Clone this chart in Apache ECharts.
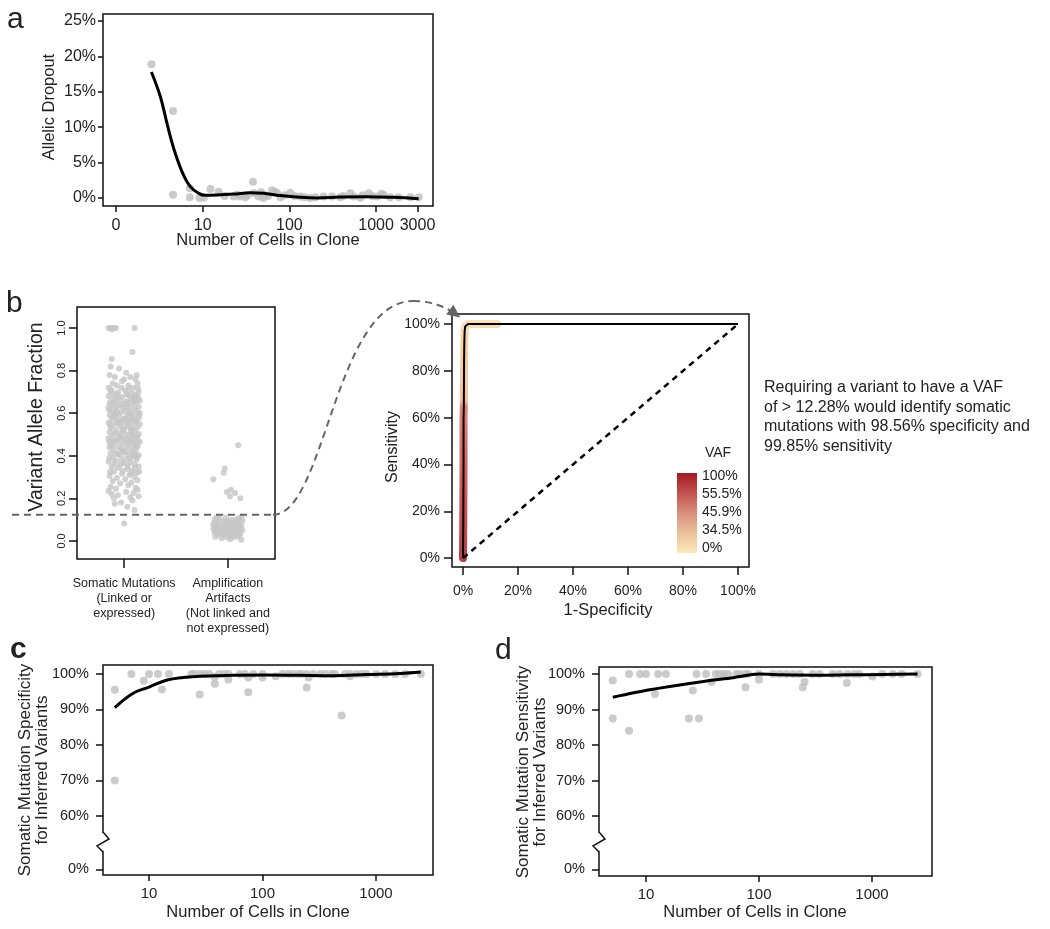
<!DOCTYPE html>
<html><head><meta charset="utf-8">
<script src="https://cdn.jsdelivr.net/npm/echarts@6/dist/echarts.min.js"></script>
<style>html,body{margin:0;padding:0;background:#fff}#c{width:1050px;height:929px}</style>
</head><body><div id="c"></div>
<script>
// ---------- Panel a: allelic dropout ----------
const dropCells = [2.56,4.55,4.55,7.1,7.1,9.2,10.3,12.3,15.3,22.8,27,31,38,39,44,50,52,63,72,79,102,134,174,200,248,310,387,505,552,660,822,1020,1220,1450,1820,2490,3100,18,25,33,47,57,68,88,115,150,420,700,900,1150];
const dropPct   = [18.9,12.3,0.47,1.37,0.1,0,0.05,1.27,0.9,0.2,0.2,0.1,2.3,0.66,0.2,0,0.42,1.1,0.66,0.1,0.75,0.2,0,0.1,0.2,0.2,0.1,0.66,0.2,0.05,0.66,0.2,0.42,0.1,0.1,0.1,0.1,0.3,0.5,0.4,0.8,0.3,0.9,0.4,0.3,0.1,0.3,0.4,0.3,0.6];
const dropFitCells = [2.56,3.25,3.88,4.63,5.78,7.2,9.0,10.7,14.6,22.8,35.5,50.6,72,112,209,387,787,1600,3100];
const dropFitPct   = [17.8,14.3,10.5,7.0,3.7,1.6,0.66,0.38,0.42,0.56,0.75,0.66,0.38,0.19,0.0,0.14,0.19,0.09,-0.1];
const dropTicksX = [1,10,100,1000,3000];
const dropTickLabelsX = ['0','10','100','1000','3000'];
const dropTicksY = [0,5,10,15,20,25];

// ---------- Panel b: VAF strip chart ----------
const vafCategories = ['Somatic Mutations\n(Linked or\nexpressed)','Amplification\nArtifacts\n(Not linked and\nnot expressed)'];
const vafThreshold = 0.1228;
const vafTicks = [0,0.2,0.4,0.6,0.8,1.0];
// [jitter offset, VAF]
const somaticPoints = [
[-0.15,1.0],[-0.13,1.0],[-0.12,0.995],[-0.10,1.0],[-0.08,1.0],[0.10,1.0],
[-0.12,0.855],[-0.13,0.82],[-0.05,0.81],[0.08,0.887],[-0.14,0.78],[-0.09,0.77],[0.02,0.79],[0.06,0.77],[0.11,0.76],[-0.02,0.75],[0.13,0.74],[-0.11,0.74],[0.04,0.73],[-0.07,0.73],[0.09,0.72],[-0.15,0.72],[0.00,0.76],[0.12,0.78],
[-0.13,0.702],[-0.06,0.698],[0.01,0.705],[0.07,0.695],[0.14,0.70],[-0.10,0.69],[0.11,0.688],
[-0.15,0.681],[-0.02,0.676],[0.04,0.684],[0.09,0.672],[-0.08,0.67],[0.13,0.678],[-0.12,0.665],
[-0.04,0.661],[0.02,0.655],[0.06,0.664],[0.12,0.652],[-0.14,0.648],[-0.09,0.655],[0.15,0.66],[0.00,0.645],
[-0.11,0.64],[-0.06,0.636],[0.03,0.632],[0.08,0.641],[0.14,0.63],[-0.15,0.628],[-0.01,0.625],[0.10,0.622],
[-0.13,0.618],[-0.07,0.612],[0.05,0.615],[0.12,0.608],[-0.03,0.605],[0.01,0.61],[0.15,0.602],[-0.10,0.60],
[0.07,0.598],[-0.14,0.592],[-0.05,0.59],[0.03,0.588],[0.10,0.585],[-0.09,0.58],[0.14,0.578],[0.00,0.575],
[-0.12,0.572],[-0.02,0.565],[0.06,0.568],[0.12,0.56],[-0.07,0.558],[0.02,0.552],[-0.15,0.555],[0.09,0.55],
[-0.10,0.545],[-0.04,0.54],[0.04,0.538],[0.13,0.535],[0.15,0.548],[-0.13,0.53],[0.00,0.528],[0.08,0.525],
[-0.08,0.52],[-0.01,0.515],[0.06,0.512],[0.11,0.518],[-0.14,0.51],[-0.05,0.505],[0.02,0.50],[0.14,0.502],
[-0.11,0.495],[0.09,0.49],[-0.03,0.488],[0.05,0.485],[0.12,0.48],[-0.15,0.482],[-0.07,0.478],[0.00,0.475],
[0.07,0.47],[-0.12,0.468],[0.03,0.462],[0.15,0.465],[-0.02,0.458],[-0.09,0.455],[0.10,0.452],[0.13,0.445],
[-0.14,0.44],[-0.05,0.442],[0.01,0.438],[0.06,0.432],[-0.10,0.428],[0.11,0.425],[-0.01,0.42],[0.08,0.418],
[-0.13,0.412],[-0.06,0.408],[0.04,0.405],[0.14,0.402],[-0.03,0.398],[0.09,0.395],[-0.11,0.39],[0.02,0.385],
[0.12,0.382],[-0.08,0.378],[-0.15,0.372],[0.06,0.37],[0.00,0.365],[0.10,0.36],[-0.04,0.355],[0.14,0.35],
[-0.12,0.348],[-0.06,0.342],[0.03,0.338],[0.08,0.33],[-0.10,0.325],[0.12,0.32],[-0.02,0.315],[0.05,0.31],
[-0.14,0.305],[0.10,0.30],[-0.07,0.295],[0.01,0.29],[0.13,0.285],[-0.11,0.28],[0.07,0.275],[-0.04,0.27],
[-0.145,0.615],[-0.085,0.625],[-0.025,0.635],[0.035,0.645],[0.095,0.655],[0.135,0.665],[-0.115,0.585],[-0.055,0.565],[0.015,0.575],[0.075,0.58],[0.145,0.59],[-0.135,0.545],[-0.035,0.552],[0.045,0.558],[0.105,0.565],[-0.095,0.505],[-0.015,0.525],[0.065,0.53],[0.125,0.492],[-0.145,0.465],[-0.055,0.472],[0.025,0.478],[0.085,0.462],[-0.125,0.448],[-0.035,0.43],[0.045,0.45],[0.115,0.44],[-0.075,0.41],[0.015,0.415],[0.095,0.408],[-0.145,0.39],[-0.025,0.375],[0.055,0.388],[0.125,0.395],[-0.095,0.362],[0.035,0.352],[0.105,0.345],[-0.135,0.325],[-0.015,0.33],[0.065,0.318],[0.145,0.325],[-0.065,0.685],[0.025,0.69],[0.105,0.675],[-0.125,0.71],[0.045,0.715],[-0.025,0.72],[0.135,0.715],[-0.085,0.595],[0.055,0.6],[-0.045,0.49],[0.075,0.5],[-0.105,0.47],[0.135,0.47],
[0.04,0.262],[-0.13,0.255],[0.11,0.25],[-0.08,0.245],[0.13,0.24],[-0.15,0.235],[0.02,0.23],[0.09,0.225],[-0.12,0.22],[0.14,0.21],[-0.06,0.215],[0.06,0.205],[-0.10,0.20],[0.08,0.19],[-0.03,0.18],[0.03,0.16],[0.10,0.145],[-0.09,0.175],[0.00,0.082]
];
const artifactPoints = [
[-0.13,0.10],[-0.08,0.105],[-0.02,0.11],[0.04,0.10],[0.10,0.108],[0.14,0.095],[-0.11,0.09],[-0.05,0.092],[0.01,0.088],[0.07,0.09],[0.12,0.085],[-0.14,0.08],[-0.09,0.078],[-0.03,0.082],[0.03,0.075],[0.09,0.078],[0.13,0.072],[-0.12,0.07],[-0.06,0.068],[0.00,0.065],[0.06,0.066],[0.11,0.062],[-0.14,0.06],[-0.10,0.058],[-0.04,0.055],[0.02,0.058],[0.08,0.055],[0.14,0.052],[-0.12,0.05],[-0.07,0.048],[-0.01,0.045],[0.05,0.047],[0.10,0.044],[-0.13,0.04],[-0.08,0.038],[-0.03,0.036],[0.03,0.035],[0.07,0.038],[0.12,0.035],[-0.10,0.03],[-0.05,0.028],[0.01,0.025],[0.06,0.027],[0.11,0.024],[-0.12,0.02],[-0.02,0.018],[0.04,0.015],[0.09,0.02],[-0.06,0.012],[0.02,0.008],[0.13,0.005],[-0.09,0.065],[0.05,0.085],[-0.03,0.072],[0.08,0.1],[-0.11,0.11],[0.13,0.112],[0.00,0.095],
[-0.14,0.29],[-0.03,0.34],[-0.04,0.32],[0.10,0.45],[-0.01,0.23],[0.03,0.24],[0.07,0.225],[0.12,0.20],[0.02,0.21]
];

// ---------- Panel b: ROC ----------
const rocFPR = [0,0.001,0.002,0.002,0.003,0.004,0.004,0.005,0.006,0.008,0.012,0.018,0.04,0.124,1];
const rocTPR = [0,0.15,0.40,0.60,0.645,0.65,0.85,0.93,0.97,0.99,0.998,1,1,1,1];
const rocBandEnd = 0.124;
const rocTicks = [0,0.2,0.4,0.6,0.8,1.0];
const vafLegendLabels = ['100%','55.5%','45.9%','34.5%','0%'];

// ---------- Panel c: specificity ----------
const specCells = [5,5,7,9,10,12,13,15,23.7,25,28,28,31,34,38,38,41.5,46,50,50,63,70,75,75,83,100,100,131,150,168,184,206,220,245,245,255,280,321,356,406,434,498,531,589,589,673,748,828,1000,1200,1480,1800,2480];
const specPct   = [95.5,70,100,98.1,100,100,95.6,100,100,100,100,94.2,100,100,97.2,99.2,100,100,100,98.4,100,100,94.8,99.0,100,100,99.0,99.3,100,100,100,100,100,100,96.2,99.0,100,100,100,100,100,88.3,100,100,99.3,100,100,100,100,100,100,100,100];
const specFitCells = [5,7.2,10,14.2,20,28,55,108,213,420,828,1630,2480];
const specFitPct   = [90.5,94.5,96.3,98.2,99,99.3,99.6,99.7,99.6,99.5,99.8,100.1,100.5];

// ---------- Panel d: sensitivity ----------
const sensCells = [5.08,5.08,7.08,7.08,8.85,10,12,12.8,15,24,26,28,29.4,34,38,41.5,45,49,53,63,67,75,76,80,100,100,133,152,174,200,229,244,253,298,343,450,516,600,609,700,770,1010,1230,1530,1830,2530];
const sensPct   = [98.2,87.5,100,84.0,100,100,94.4,100,100,87.5,95.4,100,87.5,100,97.8,100,100,100,100,100,100,100,96.3,100,98.4,100,100,100,100,100,100,96.3,97.8,100,100,100,100,97.5,100,100,100,99.3,100,100,100,100];
const sensFitCells = [5.08,10.8,30,59,100,162,320,630,1250,2530];
const sensFitPct   = [93.5,95.6,97.8,99,100,99.8,99.7,99.8,99.9,100];

const cloneTicks = [10,100,1000];
const pctTicksBroken = [0,60,70,80,90,100];
const BREAK_POS = 45; // where the 0% tick sits after the axis break

// ---------- helpers ----------
const FONT = '"Liberation Sans", Arial, Helvetica, sans-serif';
const TXT = '#222';
const L = v => Math.log10(v);
const near = (arr, v) => arr.findIndex(t => Math.abs(t - v) < 1e-6);

function axis(o) {
  return {
    type: 'value', gridIndex: o.g, min: o.min, max: o.max, scale: true,
    axisLine: {show: false, onZero: false}, splitLine: {show: false}, splitArea: {show: false},
    axisTick: {show: true, customValues: o.ticks, length: o.tickLen || 6, inside: false,
               lineStyle: {color: '#111', width: 1.5}},
    axisLabel: {show: true, customValues: o.ticks, formatter: o.fmt, fontSize: o.fs,
                fontFamily: FONT, color: TXT, margin: o.margin, rotate: o.rotate || 0,
                lineHeight: o.lh || undefined, hideOverlap: false}
  };
}
const gridBase = {show: true, borderColor: '#111', borderWidth: 1.5, backgroundColor: 'transparent', containLabel: false, outerBoundsMode: 'none'};

const dropXT = dropTicksX.map(L);
const cloneXT = cloneTicks.map(L);
const brokenYT = pctTicksBroken.map(t => t === 0 ? BREAK_POS : t);

const xAxes = [
  axis({g:0, min:-0.15, max:3.656, ticks:dropXT, fmt:v => dropTickLabelsX[near(dropXT, v)], fs:16, margin:12, tickLen:6}),
  axis({g:1, min:0.545, max:2.455, ticks:[1,2], fmt:v => vafCategories[Math.round(v) - 1], fs:12.5, margin:17, tickLen:9, lh:15}),
  axis({g:2, min:-0.04, max:1.04, ticks:rocTicks, fmt:v => Math.round(v*100) + '%', fs:14, margin:17, tickLen:8}),
  axis({g:3, min:0.595, max:3.502, ticks:cloneXT, fmt:v => String(Math.round(Math.pow(10, v))), fs:15, margin:11, tickLen:6}),
  axis({g:4, min:0.584, max:3.531, ticks:cloneXT, fmt:v => String(Math.round(Math.pow(10, v))), fs:15, margin:11, tickLen:6})
];
const yAxes = [
  axis({g:0, min:-1.13, max:26.0, ticks:dropTicksY, fmt:v => v + '%', fs:16, margin:7, tickLen:5}),
  axis({g:1, min:-0.085, max:1.099, ticks:vafTicks, fmt:v => v.toFixed(1), fs:11, margin:10, tickLen:8, rotate:90}),
  axis({g:2, min:-0.038, max:1.043, ticks:rocTicks, fmt:v => Math.round(v*100) + '%', fs:14, margin:12, tickLen:8}),
  axis({g:3, min:43.4, max:102.5, ticks:brokenYT, fmt:v => pctTicksBroken[near(brokenYT, v)] + '%', fs:14.5, margin:14, tickLen:7}),
  axis({g:4, min:43.1, max:102.0, ticks:brokenYT, fmt:v => pctTicksBroken[near(brokenYT, v)] + '%', fs:14.5, margin:14, tickLen:7})
];

const dotStyle = {color: '#bebebe'};
const fitStyle = {color: '#000', width: 3};

const rocBand = [];
rocFPR.forEach((f, i) => { if (f <= rocBandEnd) rocBand.push([f, rocTPR[i]]); });

const series = [
  {type:'scatter', xAxisIndex:0, yAxisIndex:0, symbolSize:8, itemStyle:dotStyle,
   data: dropCells.map((c, i) => [L(c), dropPct[i]])},
  {type:'line', xAxisIndex:0, yAxisIndex:0, smooth:0.4, showSymbol:false, lineStyle:fitStyle,
   data: dropFitCells.map((c, i) => [L(c), dropFitPct[i]])},

  {type:'scatter', xAxisIndex:1, yAxisIndex:1, symbolSize:6, itemStyle:{color:'#c6c6c6', opacity:0.8},
   data: somaticPoints.map(p => [1 + p[0], p[1]])},
  {type:'scatter', xAxisIndex:1, yAxisIndex:1, symbolSize:6, itemStyle:{color:'#c6c6c6', opacity:0.8},
   data: artifactPoints.map(p => [2 + p[0], p[1]])},

  {type:'line', xAxisIndex:2, yAxisIndex:2, showSymbol:false, z:2,
   lineStyle:{width:8, opacity:0.85, cap:'round', join:'round',
     color: new echarts.graphic.LinearGradient(0,0,0,1,[
       {offset:0, color:'#fcdcaa'},{offset:0.05, color:'#f8cf9e'},{offset:0.33, color:'#f1b88a'},
       {offset:0.36, color:'#dc6e62'},{offset:0.7, color:'#c63c3c'},{offset:1, color:'#a91d25'}])},
   data: rocBand},
  {type:'line', xAxisIndex:2, yAxisIndex:2, showSymbol:false, z:3,
   lineStyle:{width:2, color:'#000'}, data: rocFPR.map((f, i) => [f, rocTPR[i]])},
  {type:'line', xAxisIndex:2, yAxisIndex:2, showSymbol:false, z:3,
   lineStyle:{width:2.5, color:'#000', type:[6,5]}, data: [[0,0],[1,1]]},

  {type:'scatter', xAxisIndex:3, yAxisIndex:3, symbolSize:8, itemStyle:dotStyle,
   data: specCells.map((c, i) => [L(c), specPct[i]])},
  {type:'line', xAxisIndex:3, yAxisIndex:3, smooth:0.4, showSymbol:false, lineStyle:fitStyle,
   data: specFitCells.map((c, i) => [L(c), specFitPct[i]])},

  {type:'scatter', xAxisIndex:4, yAxisIndex:4, symbolSize:8, itemStyle:dotStyle,
   data: sensCells.map((c, i) => [L(c), sensPct[i]])},
  {type:'line', xAxisIndex:4, yAxisIndex:4, smooth:0.3, showSymbol:false, lineStyle:fitStyle,
   data: sensFitCells.map((c, i) => [L(c), sensFitPct[i]])}
];

const grids = [
  Object.assign({left:103, top:14, width:330, height:192}, gridBase),
  Object.assign({left:77, top:307, width:198, height:252}, gridBase),
  Object.assign({left:452, top:314, width:297, height:253}, gridBase),
  Object.assign({left:103, top:665, width:330, height:210}, gridBase),
  Object.assign({left:599, top:667, width:333, height:209}, gridBase)
];

function txt(x, y, text, size, opts) {
  opts = opts || {};
  return {type:'text', x:x, y:y, rotation: opts.rot || 0, z:100,
    style:{text:text, fontSize:size, fontFamily:FONT, fill: opts.fill || TXT,
      fontWeight: opts.bold ? 'bold' : 'normal',
      align: opts.align || 'center', verticalAlign: opts.va || 'middle', lineHeight: opts.lh || undefined}};
}

const chart = echarts.init(document.getElementById('c'), null, {renderer:'canvas', width:1050, height:929});
chart.setOption({animation:false, backgroundColor:'#fff', grid:grids, xAxis:xAxes, yAxis:yAxes, series:series});

// ---------- annotations (positions derived from axes / grid layout) ----------
const g = [];
g.push(txt(7, 20, 'a', 30, {align:'left'}));
g.push(txt(6, 304, 'b', 30, {align:'left'}));
g.push(txt(10, 650, 'c', 30, {align:'left', bold:true}));
g.push(txt(495, 651, 'd', 30, {align:'left'}));
g.push(txt(49, 107, 'Allelic Dropout', 16.5, {rot:Math.PI/2}));
g.push(txt(268, 240, 'Number of Cells in Clone', 16.5));
g.push(txt(37, 417, 'Variant Allele Fraction', 19.5, {rot:Math.PI/2}));
g.push(txt(393, 447, 'Sensitivity', 16, {rot:Math.PI/2}));
g.push(txt(608, 610, '1-Specificity', 16.5));
g.push(txt(34, 770, 'Somatic Mutation Specificity\nfor Inferred Variants', 17, {rot:Math.PI/2, lh:17}));
g.push(txt(258, 912, 'Number of Cells in Clone', 16.5));
g.push(txt(532, 772, 'Somatic Mutation Sensitivity\nfor Inferred Variants', 17, {rot:Math.PI/2, lh:17}));
g.push(txt(755, 912, 'Number of Cells in Clone', 16.5));
g.push(txt(764, 417, 'Requiring a variant to have a VAF\nof > 12.28% would identify somatic\nmutations with 98.56% specificity and\n99.85% sensitivity', 16, {align:'left', lh:19.5}));
// VAF colour legend
g.push({type:'rect', z:100, shape:{x:677, y:473, width:20, height:80},
  style:{fill: new echarts.graphic.LinearGradient(0,0,0,1,[
    {offset:0, color:'#a3191f'},{offset:0.25, color:'#c3524f'},{offset:0.5, color:'#d8907c'},
    {offset:0.75, color:'#ebc09c'},{offset:1, color:'#fde9b8'}])}});
g.push(txt(718, 453, 'VAF', 14));
vafLegendLabels.forEach((s, i) => g.push(txt(702, 476 + i * 18, s, 14, {align:'left'})));

// threshold dashed line + connector to ROC
const thrY = chart.convertToPixel({gridIndex:1}, [1, vafThreshold])[1];
const bRight = 77 + 198, rocL = 452, rocT = 314;
const peakX = rocL - 39, peakY = rocT - 13, endX = rocL + 5, endY = rocT + 1;
const dash = {stroke:'#666', lineWidth:2, fill:null, lineDash:[7,5]};
g.push({type:'line', z:100, shape:{x1:12, y1:thrY, x2:bRight - 2, y2:thrY}, style:dash});
g.push({type:'bezierCurve', z:100, shape:{x1:bRight - 2, y1:thrY, cpx1:bRight + 50, cpy1:thrY,
  cpx2:bRight + 60, cpy2:peakY, x2:peakX, y2:peakY}, style:dash});
g.push({type:'bezierCurve', z:100, shape:{x1:peakX, y1:peakY, cpx1:peakX + 17, cpy1:peakY,
  cpx2:peakX + 32, cpy2:peakY + 5, x2:endX, y2:endY}, style:dash});
// arrow head
(function(){
  const ang = Math.atan2(endY - (peakY + 5), endX - (peakX + 32));
  const tipX = endX + 4 * Math.cos(ang), tipY = endY + 4 * Math.sin(ang);
  const bx = tipX - 13 * Math.cos(ang), by = tipY - 13 * Math.sin(ang);
  const nx = -Math.sin(ang), ny = Math.cos(ang);
  g.push({type:'polygon', z:101, shape:{points:[[tipX,tipY],[bx + 6*nx, by + 6*ny],[bx - 6*nx, by - 6*ny]]},
    style:{fill:'#666'}});
})();
// axis breaks on panels c and d
[[3, 103], [4, 599]].forEach(([gi, bx]) => {
  const cy = chart.convertToPixel({gridIndex:gi}, [1, 52.7])[1];
  g.push({type:'rect', z:100, shape:{x:bx - 4, y:cy - 9, width:8, height:18}, style:{fill:'#fff'}});
  g.push({type:'polyline', z:101, shape:{points:[[bx, cy - 10],[bx + 6, cy - 3],[bx - 6, cy + 4],[bx, cy + 10]]},
    style:{stroke:'#111', lineWidth:1.5, fill:null}});
});

chart.setOption({graphic: g});
</script>
</body></html>
